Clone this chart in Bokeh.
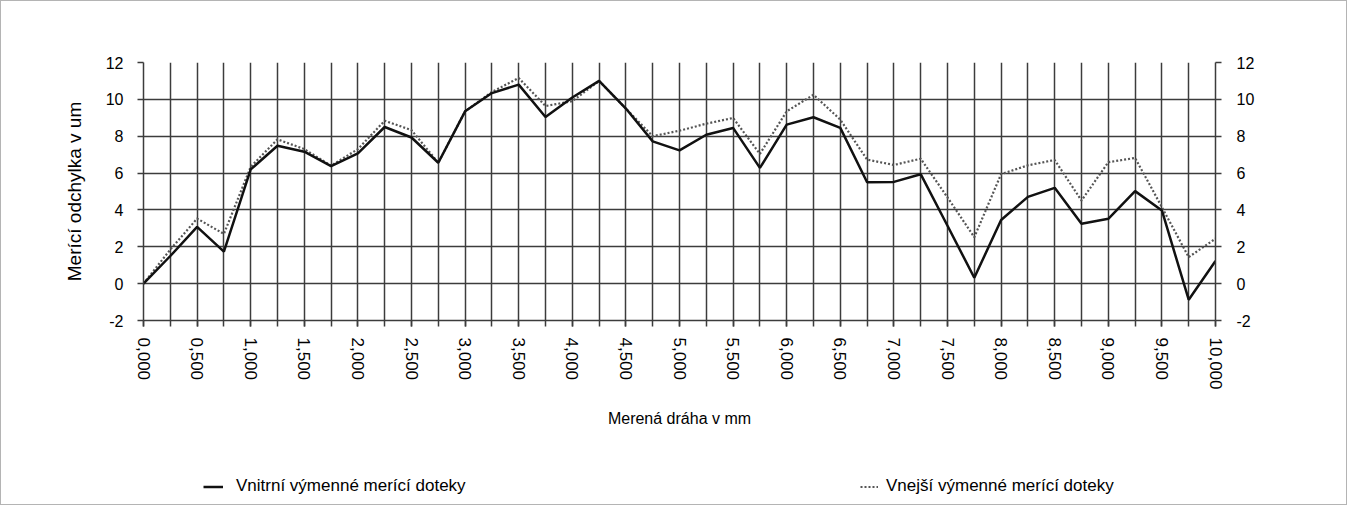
from bokeh.plotting import figure
from bokeh.layouts import column
from bokeh.models import (FixedTicker, LinearAxis, Legend, LegendItem, Range1d)
from bokeh.embed import file_html
from bokeh.resources import INLINE

# ---- data ----
x_mm = [0.0, 0.25, 0.5, 0.75, 1.0, 1.25, 1.5, 1.75, 2.0, 2.25, 2.5, 2.75,
        3.0, 3.25, 3.5, 3.75, 4.0, 4.25, 4.5, 4.75, 5.0, 5.25, 5.5, 5.75,
        6.0, 6.25, 6.5, 6.75, 7.0, 7.25, 7.5, 7.75, 8.0, 8.25, 8.5, 8.75,
        9.0, 9.25, 9.5, 9.75, 10.0]

vnitrni = [0.0, 1.5, 3.08, 1.74, 6.2, 7.48, 7.16, 6.38, 7.07, 8.5, 7.93,
           6.56, 9.35, 10.34, 10.8, 9.04, 10.1, 11.0, 9.5, 7.72, 7.23, 8.08,
           8.45, 6.28, 8.63, 9.03, 8.45, 5.5, 5.52, 5.94, 3.14, 0.32, 3.45,
           4.71, 5.2, 3.25, 3.52, 5.02, 3.97, -0.87, 1.23]

vnejsi = [0.0, 1.85, 3.53, 2.7, 6.34, 7.83, 7.3, 6.4, 7.3, 8.84, 8.33,
          6.56, 9.35, 10.4, 11.16, 9.64, 9.9, 11.0, 9.5, 8.0, 8.3, 8.68,
          8.99, 7.04, 9.35, 10.25, 8.9, 6.73, 6.44, 6.78, 4.68, 2.52, 5.94,
          6.42, 6.71, 4.51, 6.59, 6.82, 4.15, 1.44, 2.44]

label_values = [0.0, 0.5, 1.0, 1.5, 2.0, 2.5, 3.0, 3.5, 4.0, 4.5, 5.0,
                5.5, 6.0, 6.5, 7.0, 7.5, 8.0, 8.5, 9.0, 9.5, 10.0]
label_texts = ["0,000", "0,500", "1,000", "1,500", "2,000", "2,500", "3,000",
               "3,500", "4,000", "4,500", "5,000", "5,500", "6,000", "6,500",
               "7,000", "7,500", "8,000", "8,500", "9,000", "9,500", "10,000"]
y_ticks = [-2, 0, 2, 4, 6, 8, 10, 12]
y_texts = ["-2", "0", "2", "4", "6", "8", "10", "12"]

name_in = "Vnitrní výmenné merící doteky"
name_out = "Vnejší výmenné merící doteky"
x_title = "Merená dráha v mm"
y_title = "Merící odchylka v um"

FONT = "Liberation Sans"
GRID = "#3c3c3c"
IN_STYLE = dict(line_color="#111111", line_width=2.5)
OUT_STYLE = dict(line_color="#555555", line_width=2.2, line_dash="2 2")

p = figure(width=1345, height=440, output_backend="svg", toolbar_location=None,
           x_range=Range1d(0, 10), y_range=Range1d(-2, 12),
           min_border_left=142, min_border_right=131,
           min_border_top=61, min_border_bottom=121)
p.outline_line_color = None

# grids
p.xgrid.ticker = FixedTicker(ticks=x_mm)
p.ygrid.ticker = FixedTicker(ticks=y_ticks)
for g in (p.xgrid, p.ygrid):
    g.grid_line_color = GRID
    g.grid_line_width = 1.5

# x axis
xa = p.xaxis[0]
xa.ticker = FixedTicker(ticks=label_values, minor_ticks=x_mm)
xa.major_label_overrides = {v: t for v, t in zip(label_values, label_texts)}
xa.major_label_orientation = "vertical"
xa.axis_label = x_title

# y axes
ya = p.yaxis[0]
ya.ticker = FixedTicker(ticks=y_ticks)
ya.axis_label = y_title
ra = LinearAxis(ticker=FixedTicker(ticks=y_ticks))
p.add_layout(ra, "right")

for ax in (xa, ya, ra):
    ax.axis_line_color = GRID
    ax.axis_line_width = 1.5
    ax.major_tick_line_color = GRID
    ax.major_tick_line_width = 1.5
    ax.major_tick_in = 0
    ax.major_tick_out = 6
    ax.minor_tick_line_color = GRID
    ax.minor_tick_line_width = 1.5
    ax.minor_tick_in = 0
    ax.minor_tick_out = 6
    ax.major_label_text_font = FONT
    ax.major_label_text_font_size = "16px"
    ax.major_label_text_color = "black"
    ax.axis_label_text_font = FONT
    ax.axis_label_text_font_size = "16px"
    ax.axis_label_text_font_style = "normal"
    ax.axis_label_text_color = "black"

for ax in (ya, ra):
    ax.minor_tick_line_color = None
    ax.major_label_overrides = {v: t for v, t in zip(y_ticks, y_texts)}

xa.major_label_text_font_size = "17px"
ya.axis_label_text_font_size = "19px"
xa.major_label_standoff = 11
xa.axis_label_standoff = 18
ya.major_label_standoff = 14
ya.axis_label_standoff = 18
ra.major_label_standoff = 15

p.line(x_mm, vnejsi, **OUT_STYLE)
p.line(x_mm, vnitrni, **IN_STYLE)

# legend strip below the chart (its frame is aligned with the chart's frame)
q = figure(width=1345, height=63, output_backend="svg", toolbar_location=None,
           x_range=Range1d(0, 1), y_range=Range1d(0, 1), min_border=0)
q.outline_line_color = None
q.axis.visible = False
q.grid.visible = False
nan = float("nan")
g_in = q.line([nan], [nan], **IN_STYLE)
g_out = q.line([nan], [nan], **OUT_STYLE)

common = dict(padding=0, margin=0, glyph_height=17, label_height=17,
              border_line_color=None, background_fill_alpha=0,
              label_text_font=FONT, label_text_font_size="17px",
              label_text_color="black")
leg1 = Legend(items=[LegendItem(label=name_in, renderers=[g_in])],
              location=(60, 8), glyph_width=20, label_standoff=13, **common)
leg2 = Legend(items=[LegendItem(label=name_out, renderers=[g_out])],
              location=(717, 8), glyph_width=18, label_standoff=8, **common)
q.add_layout(leg1, "center")
q.add_layout(leg2, "center")

layout = column(p, q, spacing=0)
layout.styles = {"border": "1px solid #b4b4b4"}

open("out.html", "w").write(file_html(layout, INLINE))
